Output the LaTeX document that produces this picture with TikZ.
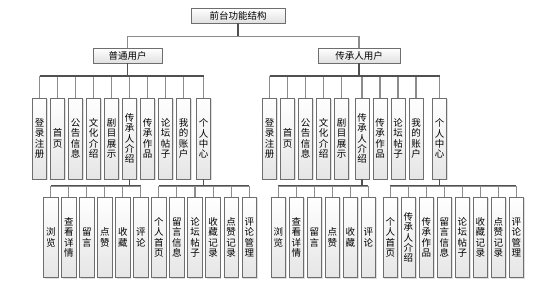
\documentclass[tikz,border=0pt]{standalone}
\usepackage{fontspec}
\newfontfamily\cjk{Noto Sans CJK SC}
\usetikzlibrary{shadows}
\definecolor{boxline}{HTML}{6E6E6E}
\definecolor{stemline}{HTML}{8C8C8C}
\definecolor{busline}{HTML}{505050}
\tikzset{
  every node/.style={font=\cjk\fontsize{9.5}{10.4}\selectfont},
  hbox/.style={draw=boxline, line width=0.8pt, top color=white, bottom color=black!12,
    drop shadow={shadow xshift=1pt, shadow yshift=-1pt, opacity=0.25},
    minimum height=15pt, inner sep=0pt},
  vbox/.style={draw=boxline, line width=0.8pt, top color=white, bottom color=black!10,
    drop shadow={shadow xshift=1pt, shadow yshift=-1pt, opacity=0.25},
    minimum width=14pt, minimum height=81pt, inner sep=0pt, align=center},
  vboxs/.style={vbox, minimum width=14.5pt, minimum height=80.4pt},
  stem/.style={draw=stemline, line width=1.1pt},
  bus/.style={draw=busline, line width=1.1pt},
}
\newcommand{\vt}[1]{\begin{tabular}{@{}c@{}}#1\end{tabular}}
\begin{document}
\begin{tikzpicture}[x=1pt,y=-1pt]
\useasboundingbox (0,0) rectangle (554,293);
% level 0 / 1
\node[hbox, minimum width=94pt] (root) at (238,15.5) {前台功能结构};
\node[hbox, minimum width=69pt] (u1) at (127.5,55.5) {普通用户};
\node[hbox, minimum width=82pt] (u2) at (359,55.5) {传承人用户};
% level 2 left
\foreach \n/\x/\t in {a1/39.5/登\\录\\注\\册, a2/57.5/首\\页, a3/75.5/公\\告\\信\\息, a4/93.5/文\\化\\介\\绍, a5/111.5/剧\\目\\展\\示, a6/129.5/传\\承\\人\\介\\绍, a7/147.5/传\\承\\作\\品, a8/165.5/论\\坛\\帖\\子, a9/183.5/我\\的\\账\\户, a10/203.5/个\\人\\中\\心}
  \node[vbox] (\n) at (\x,138.5) {\t};
% level 2 right
\foreach \n/\x/\t in {b1/269.7/登\\录\\注\\册, b2/287.7/首\\页, b3/305.7/公\\告\\信\\息, b4/323.7/文\\化\\介\\绍, b5/341.7/剧\\目\\展\\示, b6/362/传\\承\\人\\介\\绍, b7/380/传\\承\\作\\品, b8/398/论\\坛\\帖\\子, b9/416/我\\的\\账\\户, b10/439.5/个\\人\\中\\心}
  \node[vbox] (\n) at (\x,138.5) {\t};
% level 3 left A
\foreach \n/\x/\t in {c1/50.8/浏\\览, c2/68.8/查\\看\\详\\情, c3/86.8/留\\言, c4/104.8/点\\赞, c5/122.8/收\\藏, c6/140.8/评\\论}
  \node[vboxs] (\n) at (\x,237.5) {\t};
% level 3 left B
\foreach \n/\x/\t in {d1/158.8/个\\人\\首\\页, d2/176.9/留\\言\\信\\息, d3/195/论\\坛\\帖\\子, d4/213.1/收\\藏\\记\\录, d5/231.2/点\\赞\\记\\录, d6/249.3/评\\论\\管\\理}
  \node[vboxs] (\n) at (\x,237.5) {\t};
% level 3 right A
\foreach \n/\x/\t in {e1/278.3/浏\\览, e2/296.3/查\\看\\详\\情, e3/314.3/留\\言, e4/332.3/点\\赞, e5/350.3/收\\藏, e6/368.3/评\\论}
  \node[vboxs] (\n) at (\x,237.5) {\t};
% level 3 right B
\foreach \n/\x/\t in {f1/390.3/个\\人\\首\\页, f2/408.3/传\\承\\人\\介\\绍, f3/426.3/传\\承\\作\\品, f4/444.3/留\\言\\信\\息, f5/462.3/论\\坛\\帖\\子, f6/480.3/收\\藏\\记\\录, f7/498.3/点\\赞\\记\\录, f8/516.3/评\\论\\管\\理}
  \node[vboxs] (\n) at (\x,237.5) {\t};
% connectors
\begin{scope}[on background layer/.style={}]
\foreach \c in {u1,u2} \draw[stem] (root.south) -- ++(0,13) -| (\c.north);
\draw[bus] (root.south) -- ++(0,13);
\foreach \c in {a1,a2,a3,a4,a5,a6,a7,a8,a9,a10} \draw[stem] (u1.south) -- ++(0,13) -| (\c.north);
\draw[bus] (u1.south) -- ++(0,13) (a1.north |- 0,76) -- (a10.north |- 0,76);
\foreach \c in {b1,b2,b3,b4,b5,b6,b7,b8,b9,b10} \draw[stem] (u2.south) -- ++(0,13) -| (\c.north);
\draw[bus] (u2.south) -- ++(0,13) (b1.north |- 0,76) -- (b10.north |- 0,76);
\foreach \c in {c1,c2,c3,c4,c5,c6} \draw[stem] (a6.south) -- ++(0,6.7) -| (\c.north);
\draw[bus] (a6.south) -- ++(0,6.7) (c1.north |- 0,185.7) -- (c6.north |- 0,185.7);
\foreach \c in {d1,d2,d3,d4,d5,d6} \draw[stem] (a10.south) -- ++(0,6.7) -| (\c.north);
\draw[bus] (a10.south) -- ++(0,6.7) (d1.north |- 0,185.7) -- (d6.north |- 0,185.7);
\foreach \c in {e1,e2,e3,e4,e5,e6} \draw[stem] (b6.south) -- ++(0,6.7) -| (\c.north);
\draw[bus] (b6.south) -- ++(0,6.7) (e1.north |- 0,185.7) -- (e6.north |- 0,185.7);
\foreach \c in {f1,f2,f3,f4,f5,f6,f7,f8} \draw[stem] (b10.south) -- ++(0,6.7) -| (\c.north);
\draw[bus] (b10.south) -- ++(0,6.7) (f1.north |- 0,185.7) -- (f8.north |- 0,185.7);
\end{scope}
\end{tikzpicture}
\end{document}
